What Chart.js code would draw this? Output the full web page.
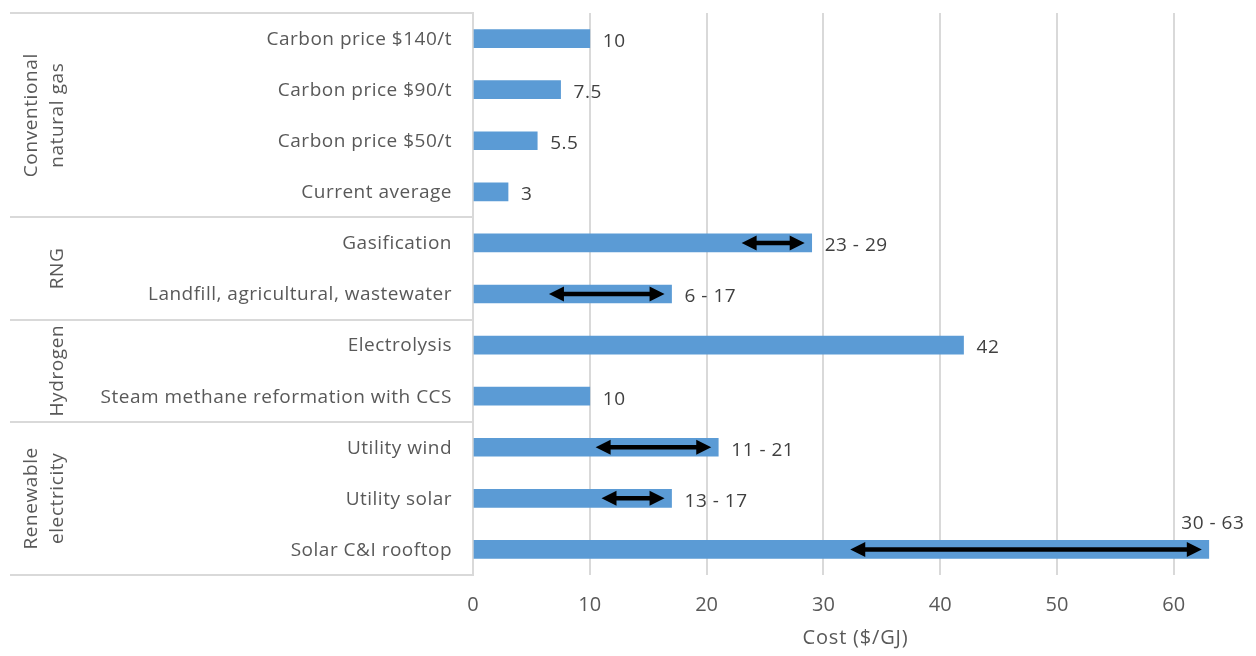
<!DOCTYPE html>
<html>
<head>
<meta charset="utf-8">
<script src="https://cdn.jsdelivr.net/npm/chart.js@4"></script>
<style>
  html, body { margin: 0; padding: 0; background: #fff; }
  #wrap { width: 1256px; height: 656px; position: relative; }
</style>
</head>
<body>
<div id="wrap"><canvas id="c"></canvas></div>
<script>
// categories, top to bottom
const categories = ['Carbon price $140/t', 'Carbon price $90/t', 'Carbon price $50/t', 'Current average',
  'Gasification', 'Landfill, agricultural, wastewater', 'Electrolysis', 'Steam methane reformation with CCS',
  'Utility wind', 'Utility solar', 'Solar C&I rooftop'];
const costs = [10, 7.5, 5.5, 3, 29, 17, 42, 10, 21, 17, 63];
const valueLabels = ['10', '7.5', '5.5', '3', '23 - 29', '6 - 17', '42', '10', '11 - 21', '13 - 17', '30 - 63'];
// double-headed arrows drawn over the bars (range)
const arrowFrom = [null, null, null, null, 23, 6.5, null, null, 10.5, 11, 32.3];
const arrowTo = [null, null, null, null, 28.4, 16.4, null, null, 20.4, 16.4, 62.4];
const groupNames = [['Conventional', 'natural gas'], ['RNG'], ['Hydrogen'], ['Renewable', 'electricity']];
const groupStart = [0, 4, 6, 8];
const groupEnd = [3, 5, 7, 10];
const xTicks = [0, 10, 20, 30, 40, 50, 60];
const xTitle = 'Cost ($/GJ)';

const font = '"Open Sans", Lato, sans-serif';
const gridCol = '#d9d9d9';
const textCol = '#595959';

const extras = {
  id: 'extras',
  afterDatasetsDraw(chart) {
    const { ctx, chartArea: a, scales: { x, y } } = chart;
    ctx.save();
    // arrows
    ctx.fillStyle = '#000'; ctx.strokeStyle = '#000';
    arrowFrom.forEach((f, i) => {
      if (f == null) return;
      const x0 = x.getPixelForValue(f), x1 = x.getPixelForValue(arrowTo[i]);
      const cy = y.getPixelForValue(i);
      const hl = 15, hh = 7.5;
      ctx.lineWidth = 4.5;
      ctx.beginPath(); ctx.moveTo(x0 + hl - 2, cy); ctx.lineTo(x1 - hl + 2, cy); ctx.stroke();
      ctx.beginPath(); ctx.moveTo(x0, cy); ctx.lineTo(x0 + hl, cy - hh); ctx.lineTo(x0 + hl, cy + hh); ctx.closePath(); ctx.fill();
      ctx.beginPath(); ctx.moveTo(x1, cy); ctx.lineTo(x1 - hl, cy - hh); ctx.lineTo(x1 - hl, cy + hh); ctx.closePath(); ctx.fill();
    });
    ctx.letterSpacing = '0.5px';
    // value labels
    ctx.font = `19px ${font}`; ctx.fillStyle = '#404040'; ctx.textBaseline = 'middle';
    costs.forEach((v, i) => {
      const px = x.getPixelForValue(v), cy = y.getPixelForValue(i);
      if (px + 80 > chart.width) {
        ctx.textAlign = 'center'; ctx.fillText(valueLabels[i], px + 4, cy - 26);
      } else {
        ctx.textAlign = 'left'; ctx.fillText(valueLabels[i], px + 13, cy + 3);
      }
    });
    // category labels
    ctx.fillStyle = textCol; ctx.textAlign = 'right';
    categories.forEach((c, i) => ctx.fillText(c, a.left - 21, y.getPixelForValue(i) + 1));
    // axis title
    ctx.textAlign = 'center'; ctx.font = `20px ${font}`; ctx.letterSpacing = '0.8px';
    ctx.fillText(xTitle, (a.left + a.right) / 2, 638);
    // group boxes on the category axis
    const step = y.getPixelForValue(1) - y.getPixelForValue(0);
    ctx.strokeStyle = gridCol; ctx.lineWidth = 2;
    const bounds = [a.top];
    groupEnd.forEach((e) => bounds.push(y.getPixelForValue(e) + step / 2));
    bounds.forEach((b) => {
      const py = Math.round(b);
      ctx.beginPath(); ctx.moveTo(10, py); ctx.lineTo(a.left, py); ctx.stroke();
    });
    ctx.font = `19px ${font}`; ctx.letterSpacing = '0.6px';
    groupNames.forEach((lines, g) => {
      const cy = (y.getPixelForValue(groupStart[g]) + y.getPixelForValue(groupEnd[g])) / 2;
      const xs = lines.length === 2 ? [32, 58] : [58];
      lines.forEach((t, k) => {
        ctx.save(); ctx.translate(xs[k], cy); ctx.rotate(-Math.PI / 2); ctx.fillText(t, 0, 0); ctx.restore();
      });
    });
    ctx.restore();
  },
};

new Chart(document.getElementById('c'), {
  type: 'bar',
  data: {
    labels: categories,
    datasets: [{ data: costs, backgroundColor: '#5b9bd5', barThickness: 18 }],
  },
  options: {
    indexAxis: 'y', responsive: true, maintainAspectRatio: false, animation: false,
    layout: { padding: { left: 10, top: 13, right: 18, bottom: 0 } },
    plugins: { legend: { display: false }, tooltip: { enabled: false } },
    scales: {
      x: {
        min: 0, max: 65.5,
        afterBuildTicks: (axis) => { axis.ticks = xTicks.map((v) => ({ value: v })); },
        afterFit: (s) => { s.height = 81; },
        grid: { color: gridCol, drawTicks: false, lineWidth: 2 },
        border: { display: false },
        ticks: { color: textCol, font: { family: font, size: 20 }, padding: 18 },
      },
      y: {
        afterFit: (s) => { s.width = 463; },
        grid: { display: false, drawTicks: false },
        border: { color: gridCol, width: 2 },
        ticks: { display: false },
      },
    },
  },
  plugins: [extras],
});
</script>
</body>
</html>
